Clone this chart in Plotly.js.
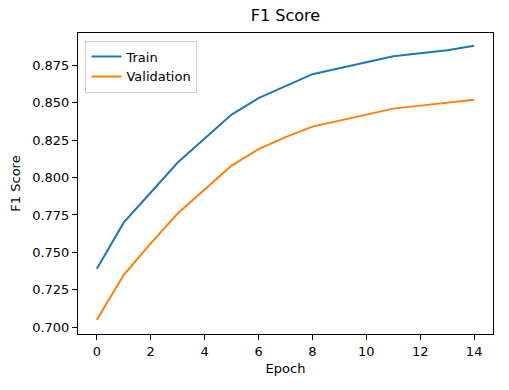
<!DOCTYPE html>
<html>
<head>
<meta charset="utf-8">
<script src="https://cdn.plot.ly/plotly-3.0.1.min.js"></script>
<style>html,body{margin:0;padding:0;background:#fff;}#chart{width:509px;height:390px;}</style>
</head>
<body>
<div id="chart"></div>
<script>
const epochs = [0,1,2,3,4,5,6,7,8,9,10,11,12,13,14];
const trainF1 = [0.739,0.770,0.790,0.810,0.826,0.842,0.853,0.861,0.869,0.873,0.877,0.881,0.883,0.885,0.888];
const valF1 = [0.705,0.735,0.756,0.776,0.792,0.808,0.819,0.827,0.834,0.838,0.842,0.846,0.848,0.850,0.852];
const seriesNames = ['Train','Validation'];

const font = 'DejaVu Sans, sans-serif';
const traces = [
  {x: epochs, y: trainF1, name: seriesNames[0], mode: 'lines', line: {color: '#1f77b4', width: 2}},
  {x: epochs, y: valF1, name: seriesNames[1], mode: 'lines', line: {color: '#ff7f0e', width: 2}}
];
const axisCommon = {
  showline: true, mirror: true, linecolor: '#000', linewidth: 1,
  ticks: 'outside', ticklen: 5, tickwidth: 1, tickcolor: '#000',
  showgrid: false, zeroline: false,
  tickfont: {family: font, size: 13, color: '#000'}
};
const layout = {
  width: 509, height: 390,
  margin: {l: 78, r: 16, t: 33, b: 56},
  paper_bgcolor: '#fff', plot_bgcolor: '#fff',
  font: {family: font, color: '#000'},
  title: {text: 'F1 Score', font: {family: font, size: 16, color: '#000'}, xref: 'paper', x: 0.5, xanchor: 'center', yref: 'container', y: 1 - 15/390, yanchor: 'middle'},
  xaxis: Object.assign({}, axisCommon, {range: [-0.7, 14.7], dtick: 2, tick0: 0,
    title: {text: 'Epoch', font: {family: font, size: 13, color: '#000'}, standoff: 6}}),
  yaxis: Object.assign({}, axisCommon, {range: [0.6955, 0.8965], dtick: 0.025, tick0: 0.7, tickformat: '.3f',
    title: {text: 'F1 Score', font: {family: font, size: 13, color: '#000'}, standoff: 8}}),
  showlegend: true,
  legend: {x: 0.018, y: 0.975, xanchor: 'left', yanchor: 'top', bgcolor: 'rgba(255,255,255,0.8)', bordercolor: '#d0d0d0', borderwidth: 1,
    font: {family: font, size: 13, color: '#000'}, tracegroupgap: 0, itemwidth: 30}
};
Plotly.newPlot('chart', traces, layout, {displayModeBar: false, staticPlot: true});
</script>
</body>
</html>
